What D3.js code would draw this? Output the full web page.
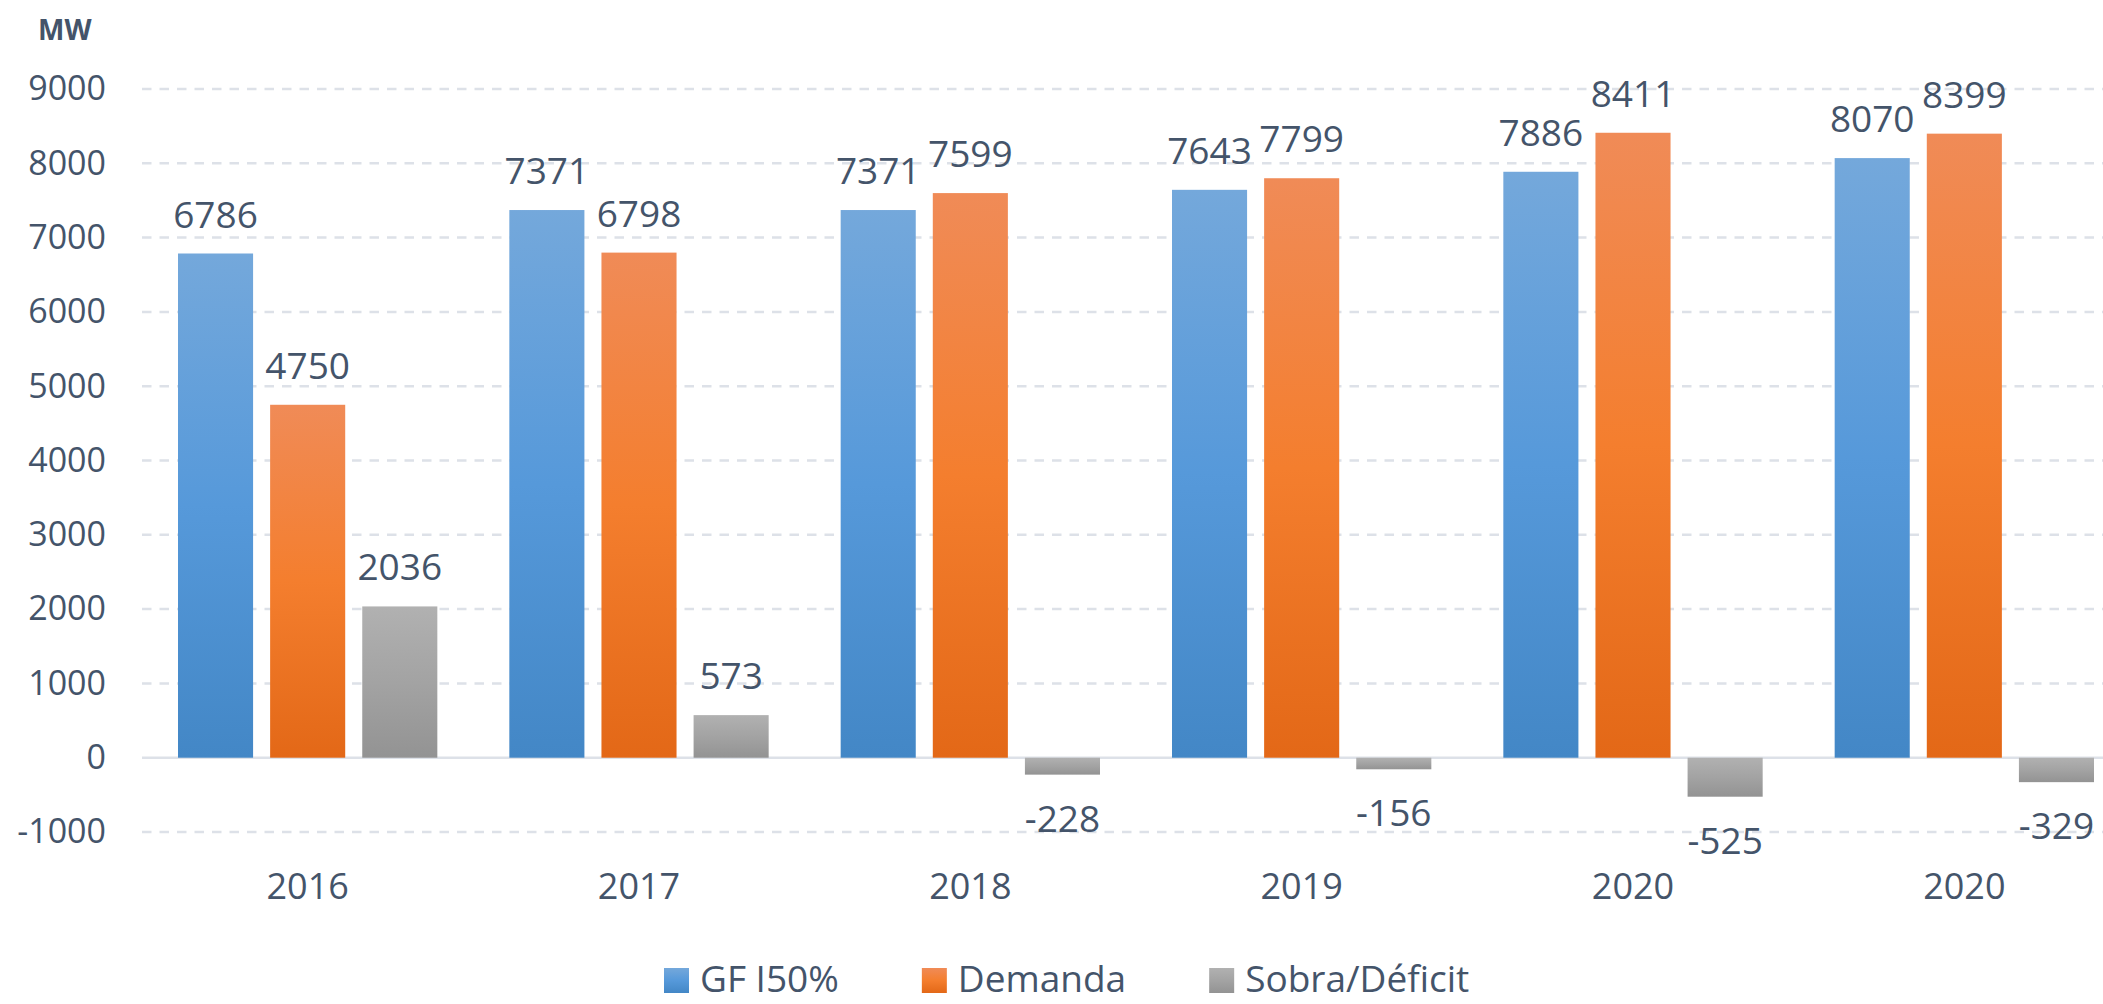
<!DOCTYPE html>
<meta charset="utf-8">
<html>
    <head>
        <style type="text/css">
            body { margin:0; background:#fff; }
            svg { display:block; }
            .graphText {
                font-family: "Open Sans", sans-serif;
                fill: #44546A;
            }
        </style>
        <script src="https://d3js.org/d3.v7.min.js"></script>
    </head>
    <body>
        <svg width="2103" height="1004"></svg>
        <script type="text/javascript">
            // values
            var years = ["2016", "2017", "2018", "2019", "2020", "2020"];
            var gf = [6786, 7371, 7371, 7643, 7886, 8070];
            var demanda = [4750, 6798, 7599, 7799, 8411, 8399];
            var sobra = [2036, 573, -228, -156, -525, -329];
            var seriesNames = ["GF I50%", "Demanda", "Sobra/Déficit"];
            var yTicks = [-1000, 0, 1000, 2000, 3000, 4000, 5000, 6000, 7000, 8000, 9000];

            var width = 2103;
            var height = 1004;
            var margin = {top: 89, bottom: 172, left: 142, right: -27};

            var seriesValues = [gf, demanda, sobra];
            var gradStops = [
                ["#74A8DB", "#5699DA", "#4387C6"],
                ["#F08B57", "#F47E2E", "#E36817"],
                ["#B1B1B1", "#A3A3A3", "#939393"]
            ];

            var svg = d3.select("svg");

            // vertical gradients like the Excel fill
            var defs = svg.append("defs");
            gradStops.forEach((stops, i) => {
                var g = defs.append("linearGradient")
                    .attr("id", "grad" + i)
                    .attr("x1", 0).attr("y1", 0)
                    .attr("x2", 0).attr("y2", 1);
                g.append("stop").attr("offset", "0%").attr("stop-color", stops[0]);
                g.append("stop").attr("offset", "50%").attr("stop-color", stops[1]);
                g.append("stop").attr("offset", "100%").attr("stop-color", stops[2]);
            });

            var x0 = d3.scaleBand()
                .domain(d3.range(years.length))
                .range([margin.left, width - margin.right]);

            var x1 = d3.scaleBand()
                .domain(d3.range(seriesNames.length))
                .range([36, x0.step() - 36])
                .paddingInner(0.185);

            var yScale = d3.scaleLinear()
                .domain([-1000, 9000])
                .range([height - margin.bottom, margin.top]);

            // gridlines, solid at zero
            svg.append("g")
                .selectAll("line")
                .data(yTicks)
                .enter().append("line")
                .attr("x1", margin.left)
                .attr("x2", width)
                .attr("y1", d => yScale(d))
                .attr("y2", d => yScale(d))
                .attr("stroke", "#DDE1E8")
                .attr("stroke-width", 2.5)
                .attr("stroke-dasharray", d => d === 0 ? null : "9.5,8");

            // bars
            var bars = [];
            years.forEach((yr, i) => {
                seriesValues.forEach((vals, s) => {
                    bars.push({group: i, series: s, value: vals[i]});
                });
            });

            svg.append("g")
                .selectAll("rect")
                .data(bars)
                .enter().append("rect")
                .attr("x", d => x0(d.group) + x1(d.series))
                .attr("y", d => yScale(Math.max(0, d.value)))
                .attr("width", x1.bandwidth())
                .attr("height", d => Math.abs(yScale(d.value) - yScale(0)))
                .attr("fill", d => "url(#grad" + d.series + ")");

            // data labels
            svg.append("g")
                .selectAll("text")
                .data(bars)
                .enter().append("text")
                .attr("class", "graphText")
                .attr("x", d => x0(d.group) + x1(d.series) + x1.bandwidth() / 2)
                .attr("y", d => d.value >= 0 ? yScale(d.value) - 26 : yScale(d.value) + 57)
                .attr("text-anchor", "middle")
                .style("font-size", "37px")
                .text(d => String(d.value));

            var yAxis = d3.axisLeft()
                .scale(yScale)
                .tickValues(yTicks)
                .tickFormat(d => String(d))
                .tickSize(0)
                .tickPadding(0);

            var yG = svg.append("g")
                .attr("transform", "translate(" + [106, 0] + ")")
                .call(yAxis);
            yG.select(".domain").remove();
            yG.selectAll("text")
                .attr("class", "graphText")
                .style("font-size", "34px");

            var xAxis = d3.axisBottom()
                .scale(x0)
                .tickFormat(i => years[i])
                .tickSize(0)
                .tickPadding(0);

            var xG = svg.append("g")
                .attr("transform", "translate(" + [0, 873] + ")")
                .call(xAxis);
            xG.select(".domain").remove();
            xG.selectAll("text")
                .attr("class", "graphText")
                .style("font-size", "36px");

            // unit label
            svg.append("text")
                .attr("class", "graphText")
                .attr("x", 38)
                .attr("y", 40)
                .style("font-size", "28px")
                .style("font-weight", "bold")
                .text("MW");

            // legend
            var legend = svg.append("g");
            var lx = 664;
            seriesNames.forEach((name, i) => {
                legend.append("rect")
                    .attr("x", lx)
                    .attr("y", 968)
                    .attr("width", 25)
                    .attr("height", 25)
                    .attr("fill", "url(#grad" + i + ")");
                var t = legend.append("text")
                    .attr("class", "graphText")
                    .attr("x", lx + 36)
                    .attr("y", 992)
                    .style("font-size", "37px")
                    .text(name);
                lx = lx + 36 + t.node().getComputedTextLength() + 83;
            });
        </script>
    </body>
</html>
